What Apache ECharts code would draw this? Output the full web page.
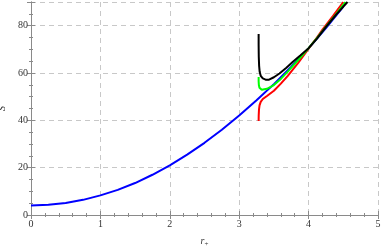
<!DOCTYPE html>
<html><head><meta charset="utf-8">
<script src="https://cdn.jsdelivr.net/npm/echarts@6/dist/echarts.min.js"></script>
<style>html,body{margin:0;padding:0;background:#fff}#c{width:382px;height:248px}</style>
</head><body><div id="c"></div>
<script>
var xTicks = [0, 1, 2, 3, 4, 5];
var yTicks = [0, 20, 40, 60, 80];
var blueR = [0, 0.25, 0.5, 0.75, 1, 1.25, 1.5, 1.75, 2, 2.25, 2.5, 2.75, 3, 3.25, 3.5, 3.75, 4, 4.25, 4.5];
var blueS = [4, 4.3, 5.1, 6.4, 8.3, 10.6, 13.5, 17, 21, 25.5, 30.5, 36, 42, 48.5, 55.3, 62.7, 70.4, 79, 88];
var redR = [3.28, 3.281, 3.285, 3.293, 3.31, 3.34, 3.4, 3.5, 3.6, 3.7, 3.85, 4.0, 4.12, 4.2, 4.35, 4.5];
var redS = [39.7, 42, 44.5, 46.3, 47.8, 49, 50.3, 52.5, 55.5, 58.8, 64.3, 70.3, 75, 78.3, 84, 90];
var greenR = [3.28, 3.28, 3.284, 3.292, 3.305, 3.325, 3.35, 3.4, 3.5, 3.6, 3.7, 3.85, 4.0, 4.12, 4.25, 4.4, 4.53];
var greenS = [58.3, 56.5, 54.8, 53.8, 53.2, 52.9, 52.9, 53.3, 54.9, 57.5, 60.6, 65.5, 70.5, 74.7, 79.6, 85, 90];
var blackR = [3.28, 3.28, 3.282, 3.287, 3.295, 3.31, 3.34, 3.38, 3.43, 3.5, 3.58, 3.68, 3.77, 3.88, 4.0, 4.12, 4.25, 4.4, 4.56];
var blackS = [76.5, 72, 67, 63, 60.5, 58.8, 57.7, 57.2, 57.2, 58.2, 59.8, 62.2, 64.6, 67.4, 70.5, 74.5, 79.5, 84.8, 90];

function pairs(a, b) { return a.map(function (v, i) { return [v, b[i]]; }); }

var font = "'Liberation Serif','DejaVu Serif',serif";
var frame = '#8a8a8a';
var grid = '#c8c8c8';

function axisCommon(extra) {
  var base = {
    type: 'value',
    axisLine: { show: true, lineStyle: { color: frame, width: 1 } },
    axisTick: { show: true, inside: true, length: 4, lineStyle: { color: frame } },
    minorTick: { show: true, splitNumber: 5, length: 2, lineStyle: { color: frame } },
    splitLine: { show: false },
    axisLabel: { show: false }
  };
  for (var k in extra) base[k] = extra[k];
  return base;
}

var chart = echarts.init(document.getElementById('c'), null, { renderer: 'canvas' });
chart.setOption({
  animation: false,
  backgroundColor: '#fff',
  grid: { left: 31, right: 4, top: 2, bottom: 33, containLabel: false, outerBoundsMode: 'none' },
  xAxis: [
    axisCommon({
      position: 'bottom', min: xTicks[0], max: xTicks[xTicks.length - 1], interval: 1,
      axisLabel: { show: true, fontFamily: font, fontSize: 10, color: '#333', margin: 4 },
      splitLine: { show: true, lineStyle: { color: grid, type: [5, 4], width: 1 } },
      name: '{i|r}{s|+}', nameLocation: 'middle', nameGap: 20,
      nameTextStyle: { rich: { i: { fontFamily: font, fontStyle: 'italic', fontSize: 10, color: '#333' }, s: { fontFamily: font, fontSize: 7, color: '#333', verticalAlign: 'bottom', padding: [6, 0, 0, 0] } } }
    }),
    axisCommon({ position: 'top', min: 0, max: 5, interval: 1 })
  ],
  yAxis: [
    axisCommon({
      position: 'left', min: 0, max: 90, interval: 20,
      minorTick: { show: true, splitNumber: 4, length: 2, lineStyle: { color: frame } },
      axisLabel: { show: true, fontFamily: font, fontSize: 10, color: '#333', margin: 3, showMaxLabel: false,
        formatter: function (v) { return yTicks.indexOf(v) >= 0 ? String(v) : ''; } },
      splitLine: { show: true, lineStyle: { color: grid, type: [5, 4], width: 1 } },
      name: 'S', nameLocation: 'middle', nameGap: 22, nameRotate: 90,
      nameTextStyle: { fontFamily: font, fontStyle: 'italic', fontSize: 10, color: '#333' }
    }),
    axisCommon({ position: 'right', min: 0, max: 90, interval: 20,
      minorTick: { show: true, splitNumber: 4, length: 2, lineStyle: { color: frame } } })
  ],
  series: [
    { type: 'line', data: pairs(blueR, blueS), showSymbol: false, smooth: false, lineStyle: { color: '#0000ff', width: 2 }, z: 2 },
    { type: 'line', data: pairs(redR, redS), showSymbol: false, smooth: false, lineStyle: { color: '#ff0000', width: 2 }, z: 3 },
    { type: 'line', data: pairs(greenR, greenS), showSymbol: false, smooth: false, lineStyle: { color: '#00ff00', width: 2 }, z: 4 },
    { type: 'line', data: pairs(blackR, blackS), showSymbol: false, smooth: false, lineStyle: { color: '#000000', width: 2 }, z: 5 }
  ]
});
</script></body></html>
